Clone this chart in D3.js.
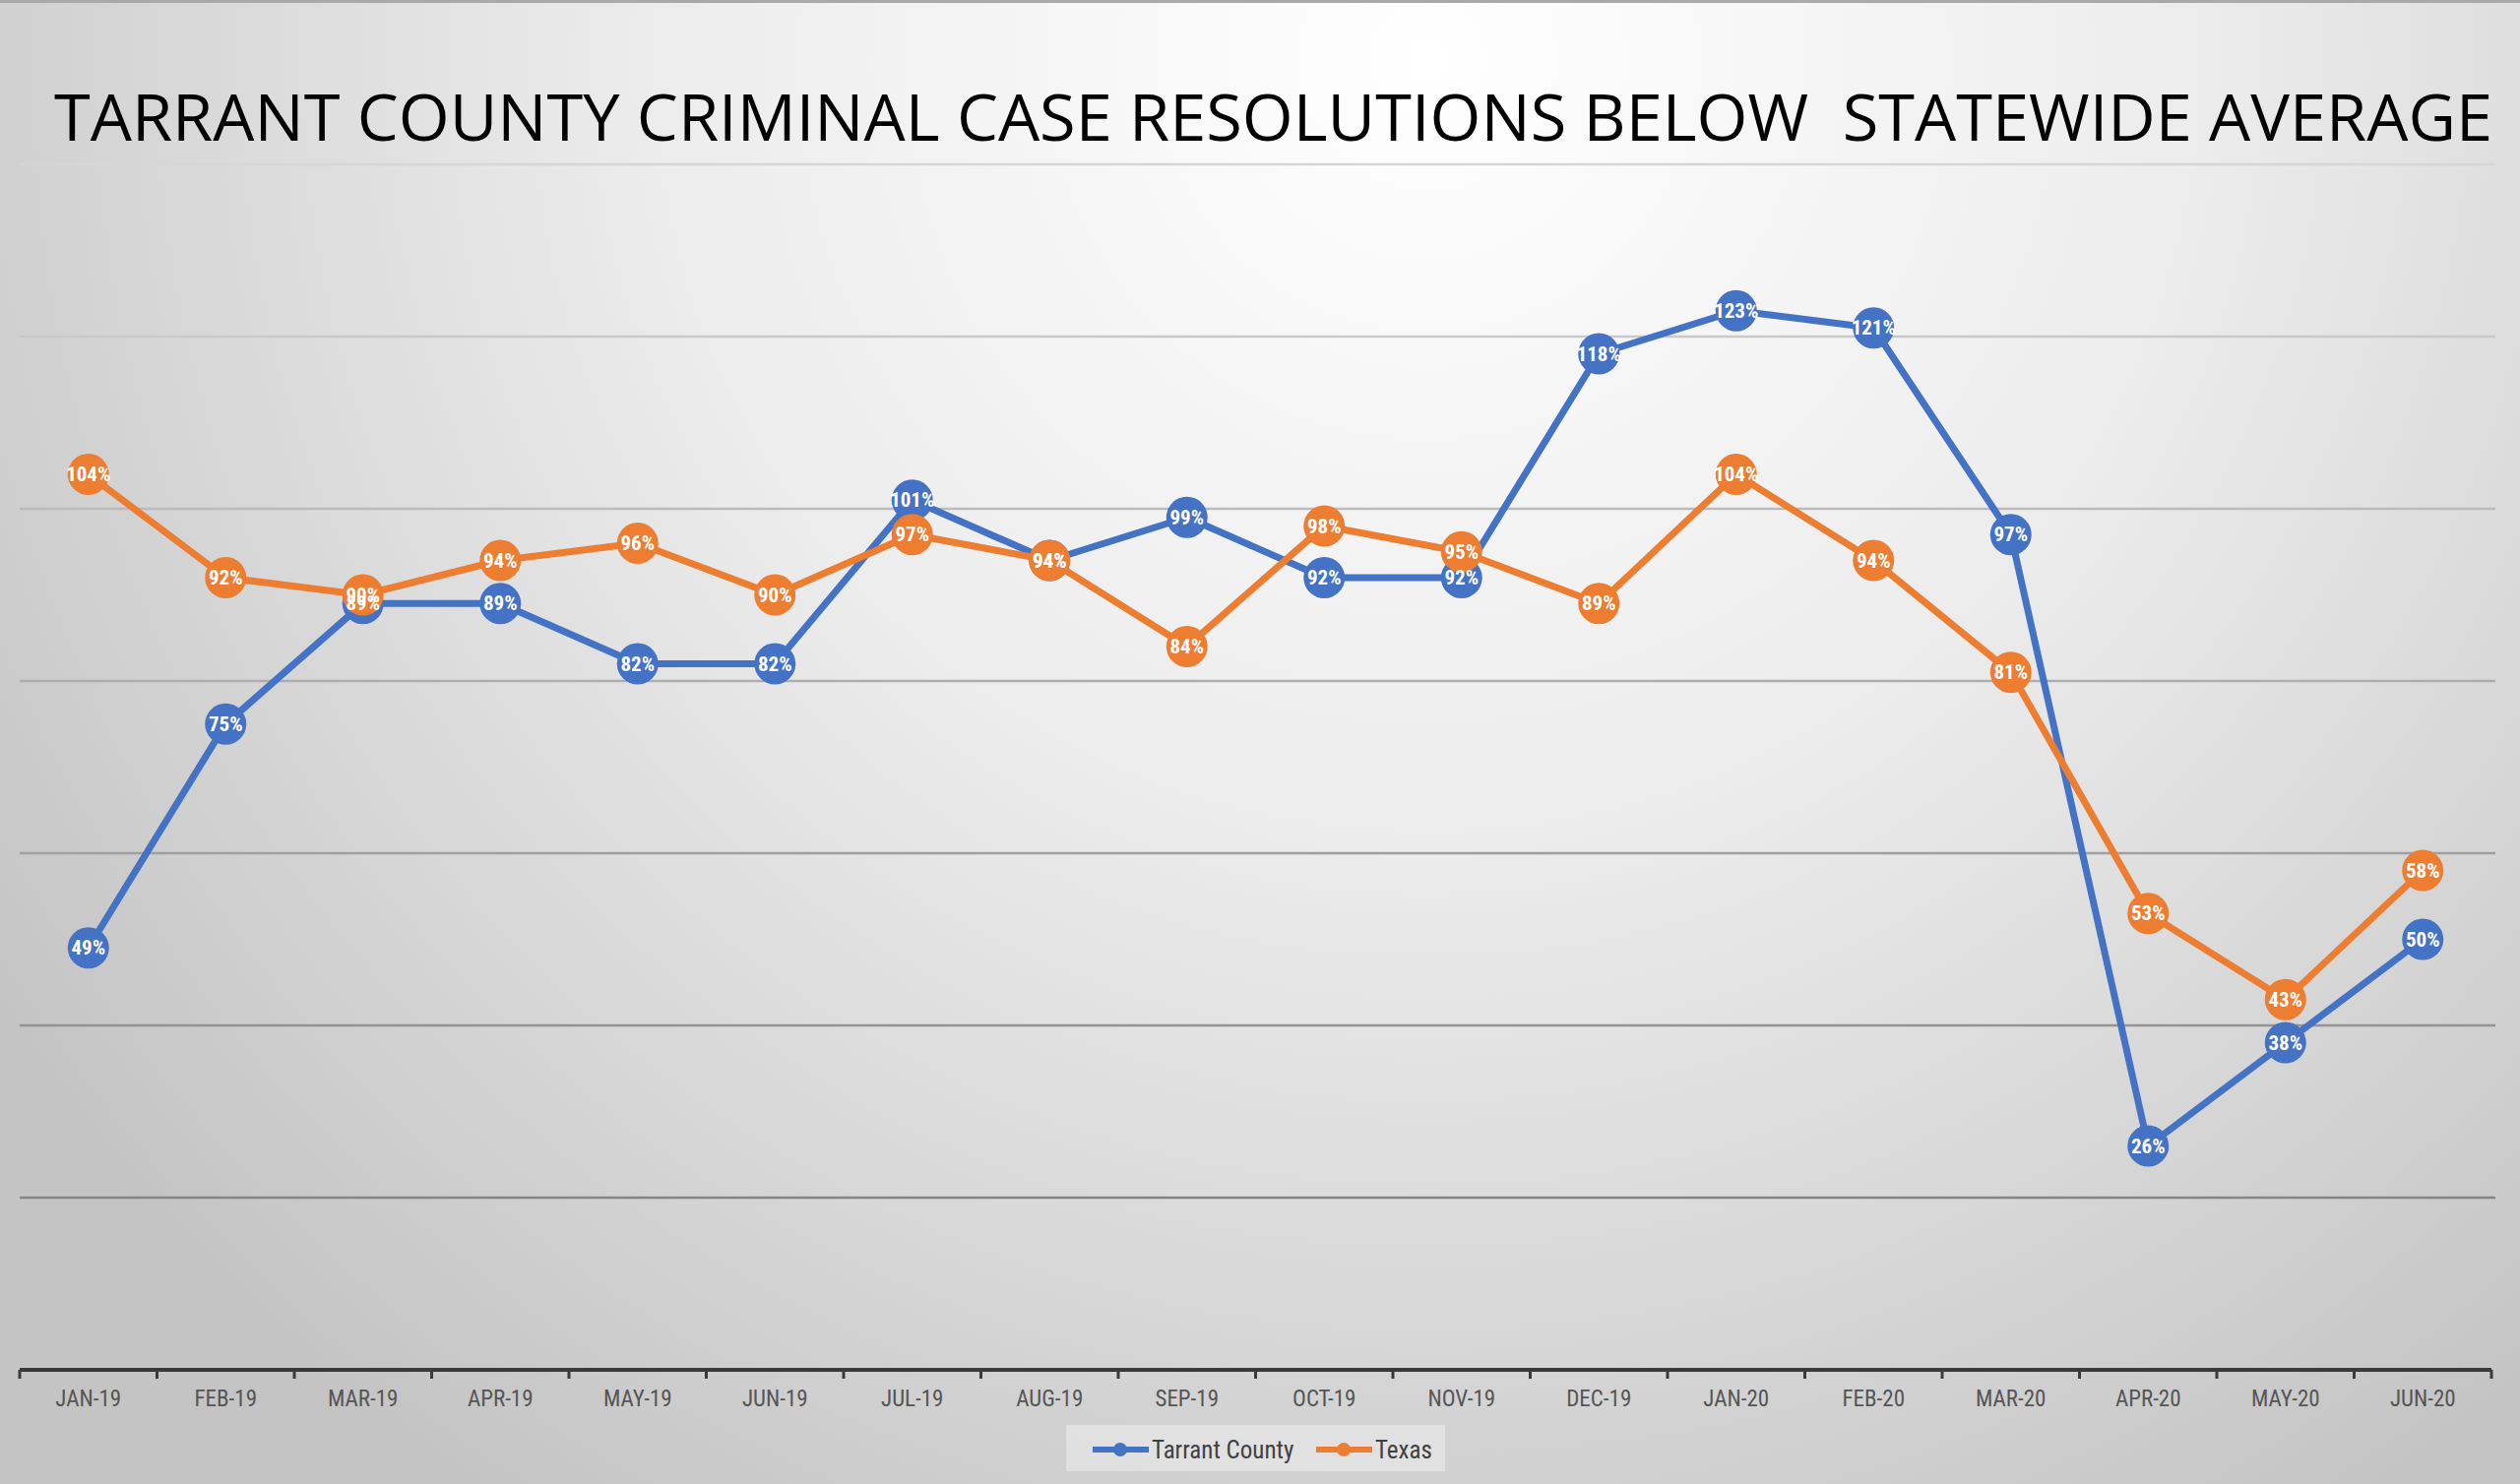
<!DOCTYPE html>
<html>
<head>
<meta charset="utf-8">
<script src="https://cdn.jsdelivr.net/npm/d3@7"></script>
<style>
  body { margin: 0; background: #d0d0d0; }
  #chart { width: 2560px; height: 1508px; }
</style>
</head>
<body>
<div id="chart"></div>
<script>
// Tarrant County vs Texas criminal case clearance rate, Jan-19 .. Jun-20

const months = ["JAN-19", "FEB-19", "MAR-19", "APR-19", "MAY-19", "JUN-19", "JUL-19", "AUG-19", "SEP-19",
    "OCT-19", "NOV-19", "DEC-19", "JAN-20", "FEB-20", "MAR-20", "APR-20", "MAY-20", "JUN-20"];
const tarrant = [49, 75, 89, 89, 82, 82, 101, 94, 99, 92, 92, 118, 123, 121, 97, 26, 38, 50];
const texas = [104, 92, 90, 94, 96, 90, 97, 94, 84, 98, 95, 89, 104, 94, 81, 53, 43, 58];
const gridValues = [20, 40, 60, 80, 100, 120, 140];
const seriesNames = ["Tarrant County", "Texas"];

const title = "TARRANT COUNTY CRIMINAL CASE RESOLUTIONS BELOW  STATEWIDE AVERAGE";

function renderChart() {
    const width = 2560, height = 1508;
    const colors = ["#4472c4", "#ed7d31"];
    const condensed = "'Liberation Sans Narrow', 'Roboto Condensed', 'Open Sans', sans-serif";

    const svg = d3.select("#chart")
        .append("svg")
        .attr("width", width)
        .attr("height", height);

    // Background gradient (light centre top, grey edges)
    const defs = svg.append("defs");
    const grad = defs.append("radialGradient")
        .attr("id", "bg")
        .attr("gradientUnits", "userSpaceOnUse")
        .attr("cx", 1450).attr("cy", 60)
        .attr("r", 1750);
    grad.append("stop").attr("offset", "0%").attr("stop-color", "#ffffff");
    grad.append("stop").attr("offset", "45%").attr("stop-color", "#ececec");
    grad.append("stop").attr("offset", "100%").attr("stop-color", "#c4c4c4");

    svg.append("rect")
        .attr("width", width)
        .attr("height", height)
        .attr("fill", "url(#bg)");

    svg.append("rect")
        .attr("width", width)
        .attr("height", 3)
        .attr("fill", "#a9a9a9");

    // Scales
    const x = d3.scaleBand()
        .domain(months)
        .range([20, 2531]);

    const y = d3.scaleLinear()
        .domain([0, 140])
        .range([1392, 167]);

    const cx = d => x(d) + x.bandwidth() / 2;

    // Gridlines, lighter towards the top
    const gridColor = d3.scaleLinear()
        .domain([140, 20])
        .range(["#d6d6d6", "#858585"]);

    svg.append("g")
        .selectAll("line")
        .data(gridValues)
        .join("line")
        .attr("x1", 20)
        .attr("x2", 2535)
        .attr("y1", d => y(d))
        .attr("y2", d => y(d))
        .attr("stroke", d => gridColor(d))
        .attr("stroke-width", 2.5);

    // Title
    svg.append("text")
        .attr("x", 55)
        .attr("y", 143)
        .attr("font-family", "'Open Sans', sans-serif")
        .attr("font-size", 65.5)
        .attr("fill", "#000")
        .attr("textLength", 2477)
        .attr("lengthAdjust", "spacingAndGlyphs")
        .style("white-space", "pre")
        .text(title);

    // X axis: baseline with ticks at category boundaries
    const axis = svg.append("g");
    axis.append("line")
        .attr("x1", x.range()[0])
        .attr("x2", x.range()[1])
        .attr("y1", y(0))
        .attr("y2", y(0))
        .attr("stroke", "#3a3a3a")
        .attr("stroke-width", 4);

    const bounds = months.map(m => x(m)).concat([x.range()[1]]);
    axis.selectAll("line.tick")
        .data(bounds)
        .join("line")
        .attr("class", "tick")
        .attr("x1", d => d)
        .attr("x2", d => d)
        .attr("y1", y(0))
        .attr("y2", y(0) + 9)
        .attr("stroke", "#3a3a3a")
        .attr("stroke-width", 3);

    axis.selectAll("text")
        .data(months)
        .join("text")
        .attr("x", d => cx(d))
        .attr("y", 1429)
        .attr("text-anchor", "middle")
        .attr("font-family", condensed)
        .attr("font-size", 23)
        .attr("fill", "#555555")
        .text(d => d);

    // Lines and markers, one series after the other
    const series = [tarrant, texas];
    const line = d3.line()
        .x((d, i) => cx(months[i]))
        .y(d => y(d));

    series.forEach((values, s) => {
        const g = svg.append("g");
        g.append("path")
            .datum(values)
            .attr("fill", "none")
            .attr("stroke", colors[s])
            .attr("stroke-width", 7)
            .attr("stroke-linejoin", "round")
            .attr("d", line);

        g.selectAll("circle")
            .data(values)
            .join("circle")
            .attr("cx", (d, i) => cx(months[i]))
            .attr("cy", d => y(d))
            .attr("r", 21)
            .attr("fill", colors[s]);
    });

    // Data labels on top
    series.forEach((values) => {
        svg.append("g")
            .selectAll("text")
            .data(values)
            .join("text")
            .attr("x", (d, i) => cx(months[i]))
            .attr("y", d => y(d) + 7)
            .attr("text-anchor", "middle")
            .attr("font-family", condensed)
            .attr("font-weight", "bold")
            .attr("font-size", 21)
            .attr("fill", "#ffffff")
            .text(d => d + "%");
    });

    // Legend
    const legend = svg.append("g");
    legend.append("rect")
        .attr("x", 1083)
        .attr("y", 1448)
        .attr("width", 385)
        .attr("height", 47)
        .attr("fill", "#ffffff")
        .attr("fill-opacity", 0.35);

    const legendX = [1110, 1337];
    seriesNames.forEach((name, s) => {
        legend.append("line")
            .attr("x1", legendX[s])
            .attr("x2", legendX[s] + 57)
            .attr("y1", 1473)
            .attr("y2", 1473)
            .attr("stroke", colors[s])
            .attr("stroke-width", 6);
        legend.append("circle")
            .attr("cx", legendX[s] + 28)
            .attr("cy", 1473)
            .attr("r", 7)
            .attr("fill", colors[s]);
        legend.append("text")
            .attr("x", legendX[s] + 60)
            .attr("y", 1482)
            .attr("font-family", condensed)
            .attr("font-size", 25)
            .attr("fill", "#404040")
            .text(name);
    });
}

renderChart();
</script>
</body>
</html>
